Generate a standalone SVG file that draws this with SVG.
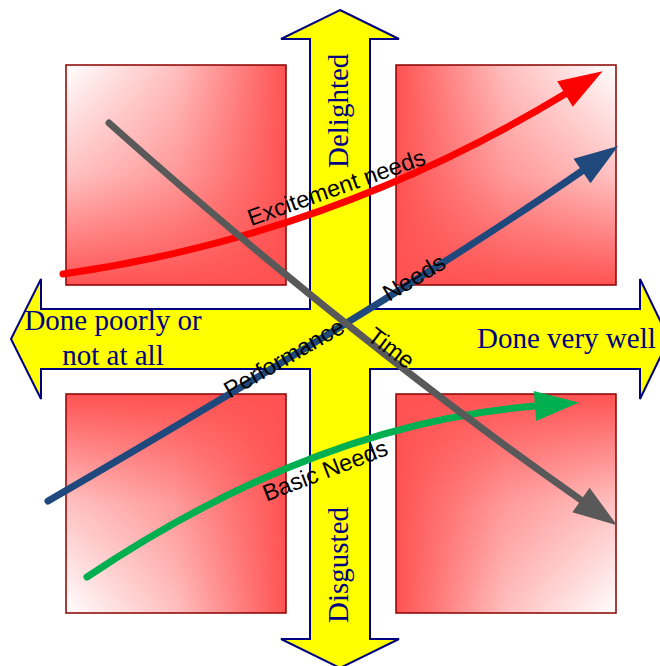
<svg xmlns="http://www.w3.org/2000/svg" width="660" height="666" viewBox="0 0 660 666">
<style>
.sq{stroke:#8B0000;stroke-width:1.5}
.cross{fill:#FFFF00;stroke:#000080;stroke-width:2;stroke-linejoin:miter}
.big{font-family:"Liberation Serif","Times New Roman",serif;font-size:29px;fill:#000080}
.lbl{font-family:"Liberation Sans",Arial,sans-serif;font-size:23.5px;fill:#000000}
.curve{fill:none;stroke-width:7;stroke-linecap:round}
</style>
<defs>
<linearGradient id="hL" x1="0" y1="0" x2="1" y2="0"><stop offset="0" stop-color="#FFFFFF"/><stop offset="0.5" stop-color="#FFC0C0"/><stop offset="1" stop-color="#FF5252"/></linearGradient>
<linearGradient id="hR" x1="1" y1="0" x2="0" y2="0"><stop offset="0" stop-color="#FFFFFF"/><stop offset="0.5" stop-color="#FFC0C0"/><stop offset="1" stop-color="#FF5252"/></linearGradient>
<linearGradient id="vT" x1="0" y1="0" x2="0" y2="1"><stop offset="0" stop-color="#FF5252" stop-opacity="0"/><stop offset="0.5" stop-color="#FF5252" stop-opacity="0.35"/><stop offset="1" stop-color="#FF5252" stop-opacity="1"/></linearGradient>
<linearGradient id="vB" x1="0" y1="1" x2="0" y2="0"><stop offset="0" stop-color="#FF5252" stop-opacity="0"/><stop offset="0.5" stop-color="#FF5252" stop-opacity="0.35"/><stop offset="1" stop-color="#FF5252" stop-opacity="1"/></linearGradient>
<marker id="mRed" markerUnits="userSpaceOnUse" markerWidth="44" markerHeight="30" refX="0" refY="15" orient="auto" overflow="visible"><path d="M0,0 L44,15 L0,30 Z" fill="#FF0000"/></marker>
<marker id="mBlue" markerUnits="userSpaceOnUse" markerWidth="44" markerHeight="30" refX="0" refY="15" orient="auto" overflow="visible"><path d="M0,0 L44,15 L0,30 Z" fill="#1F497D"/></marker>
<marker id="mGreen" markerUnits="userSpaceOnUse" markerWidth="44" markerHeight="30" refX="0" refY="15" orient="auto" overflow="visible"><path d="M0,0 L44,15 L0,30 Z" fill="#00B050"/></marker>
<marker id="mGray" markerUnits="userSpaceOnUse" markerWidth="44" markerHeight="30" refX="0" refY="15" orient="auto" overflow="visible"><path d="M0,0 L44,15 L0,30 Z" fill="#595959"/></marker>
</defs>
<rect width="660" height="666" fill="#FFFFFF"/>
<g id="sq-tl"><rect x="66" y="65" width="220" height="220" fill="url(#hL)"/><rect x="66" y="65" width="220" height="220" fill="url(#vT)" class="sq"/></g>
<g id="sq-tr"><rect x="396" y="65" width="220" height="220" fill="url(#hR)"/><rect x="396" y="65" width="220" height="220" fill="url(#vT)" class="sq"/></g>
<g id="sq-bl"><rect x="66" y="394" width="220" height="219" fill="url(#hL)"/><rect x="66" y="394" width="220" height="219" fill="url(#vB)" class="sq"/></g>
<g id="sq-br"><rect x="396" y="394" width="220" height="219" fill="url(#hR)"/><rect x="396" y="394" width="220" height="219" fill="url(#vB)" class="sq"/></g>
<g id="cross">
<path class="cross" d="M340,10 L399,39 L370,39 L370,309 L640,309 L640,279 L669,339 L640,399 L640,369 L370,369 L370,639 L399,639 L340,668 L281,639 L310,639 L310,369 L41,369 L41,399 L11,339 L41,279 L41,309 L310,309 L310,39 L281,39 Z"/>
<text class="big" transform="translate(348,168) rotate(-90)">Delighted</text>
<text class="big" transform="translate(348,623) rotate(-90)">Disgusted</text>
<text class="big" x="113" y="330" text-anchor="middle">Done poorly or</text>
<text class="big" x="113" y="365" text-anchor="middle">not at all</text>
<text class="big" x="477" y="348">Done very well</text>
</g>
<g id="connectors">
<path id="excitement" class="curve" stroke="#FF0000" d="M63,274 Q331,236 565,94" marker-end="url(#mRed)"/>
<path id="performance" class="curve" stroke="#1F497D" d="M48,501 Q399,297 582,171" marker-end="url(#mBlue)"/>
<path id="basic" class="curve" stroke="#00B050" d="M87,577 Q315,424 535,406" marker-end="url(#mGreen)"/>
<path id="time" class="curve" stroke="#595959" d="M109,123 Q350,338 581,500" marker-end="url(#mGray)"/>
</g>
<g id="labels">
<text class="lbl" text-anchor="middle" transform="translate(339,195) rotate(-19.5)">Excitement needs</text>
<text class="lbl" text-anchor="middle" transform="translate(328,478) rotate(-21)">Basic Needs</text>
<text class="lbl" text-anchor="middle" transform="translate(288,365) rotate(-30)">Performance</text>
<text class="lbl" transform="translate(389,302) rotate(-31)">Needs</text>
<text class="lbl" transform="translate(366,339) rotate(37)">Time</text>
</g>
</svg>
